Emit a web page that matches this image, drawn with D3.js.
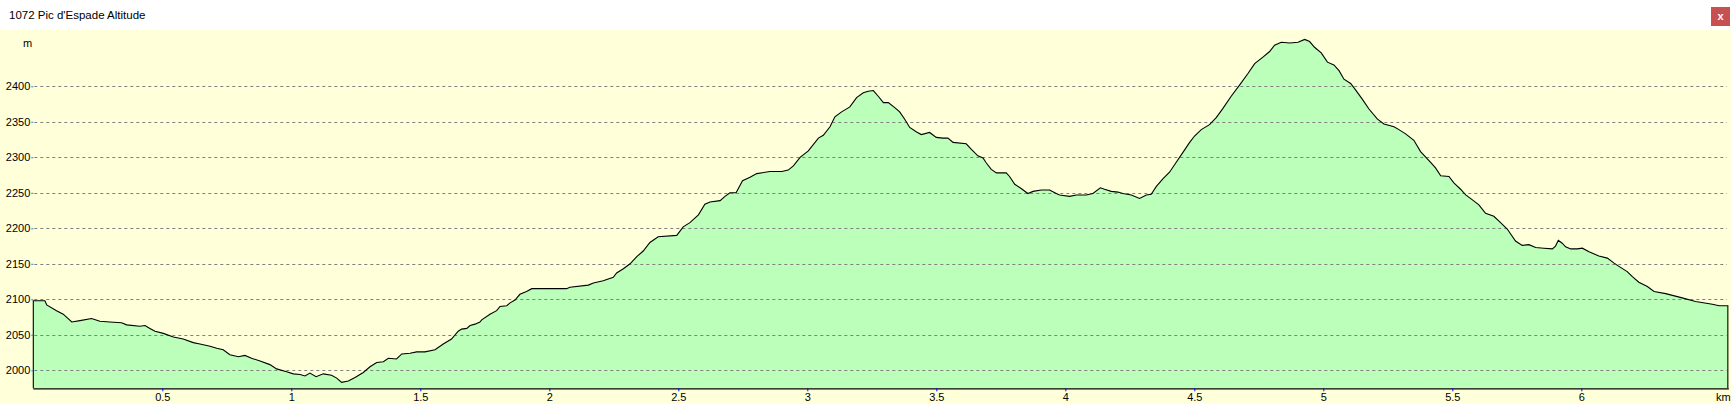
<!DOCTYPE html>
<html>
<head>
<meta charset="utf-8">
<script src="https://cdn.jsdelivr.net/npm/d3@7"></script>
<style>
  html, body { margin: 0; padding: 0; background: #ffffff; }
  svg { display: block; }
  text { font-family: "Liberation Sans", Arial, sans-serif; }
</style>
</head>
<body>
<svg id="chart" width="1731" height="404"></svg>
<script>
// ---- data ----
const title = "1072 Pic d'Espade Altitude";
const yUnit = "m";
const xUnit = "km";

const distanceKm = [
  0.000, 0.045, 0.052, 0.090, 0.116, 0.149, 0.181, 0.226, 0.258, 0.297,
  0.342, 0.362, 0.413, 0.433, 0.452, 0.472, 0.504, 0.543, 0.581, 0.620,
  0.646, 0.685, 0.711, 0.736, 0.762, 0.795, 0.820, 0.846, 0.879, 0.917,
  0.943, 0.982, 1.008, 1.034, 1.053, 1.072, 1.096, 1.124, 1.156, 1.176,
  1.195, 1.221, 1.247, 1.279, 1.305, 1.331, 1.357, 1.376, 1.408, 1.428,
  1.460, 1.486, 1.518, 1.557, 1.589, 1.621, 1.647, 1.660, 1.680, 1.693,
  1.712, 1.731, 1.738, 1.770, 1.796, 1.809, 1.835, 1.848, 1.867, 1.886,
  1.912, 1.932, 2.067, 2.080, 2.151, 2.171, 2.209, 2.248, 2.261, 2.287,
  2.313, 2.339, 2.364, 2.390, 2.422, 2.494, 2.519, 2.545, 2.578, 2.603,
  2.623, 2.662, 2.681, 2.700, 2.724, 2.749, 2.778, 2.804, 2.855, 2.901,
  2.926, 2.946, 2.972, 3.004, 3.043, 3.062, 3.088, 3.107, 3.133, 3.165,
  3.191, 3.217, 3.236, 3.256, 3.275, 3.295, 3.314, 3.339, 3.358, 3.377,
  3.397, 3.422, 3.442, 3.474, 3.500, 3.526, 3.545, 3.565, 3.616, 3.636,
  3.661, 3.681, 3.694, 3.713, 3.733, 3.771, 3.784, 3.804, 3.829, 3.855,
  3.875, 3.907, 3.939, 3.965, 3.978, 4.017, 4.043, 4.081, 4.107, 4.136,
  4.152, 4.178, 4.204, 4.223, 4.256, 4.288, 4.314, 4.333, 4.353, 4.379,
  4.404, 4.430, 4.456, 4.482, 4.501, 4.527, 4.559, 4.585, 4.611, 4.643,
  4.676, 4.708, 4.734, 4.766, 4.792, 4.811, 4.837, 4.870, 4.902, 4.928,
  4.947, 4.966, 4.992, 5.016, 5.041, 5.061, 5.080, 5.106, 5.125, 5.151,
  5.177, 5.209, 5.235, 5.274, 5.293, 5.319, 5.351, 5.377, 5.416, 5.435,
  5.455, 5.487, 5.506, 5.532, 5.552, 5.578, 5.603, 5.629, 5.661, 5.681,
  5.713, 5.745, 5.771, 5.797, 5.823, 5.855, 5.888, 5.900, 5.911, 5.926,
  5.939, 5.959, 5.984, 6.004, 6.030, 6.068, 6.101, 6.127, 6.152, 6.178,
  6.198, 6.223, 6.256, 6.282, 6.327, 6.391, 6.443, 6.508, 6.534, 6.568
];

const altitudeM = [
  2098, 2098, 2092, 2084, 2079, 2068, 2070, 2073, 2069, 2068,
  2067, 2064, 2062, 2063, 2059, 2055, 2052, 2047, 2044, 2039,
  2037, 2034, 2031, 2029, 2022, 2019, 2021, 2017, 2013, 2008,
  2002, 1998, 1995, 1994, 1992, 1996, 1991, 1995, 1993, 1989,
  1983, 1985, 1990, 1997, 2005, 2011, 2012, 2017, 2016, 2023,
  2024, 2026, 2026, 2029, 2037, 2044, 2055, 2058, 2059, 2063,
  2065, 2068, 2071, 2079, 2084, 2090, 2091, 2095, 2099, 2107,
  2111, 2115, 2115, 2117, 2120, 2123, 2126, 2131, 2137, 2143,
  2150, 2160, 2168, 2180, 2188, 2190, 2202, 2208, 2219, 2234,
  2237, 2239, 2245, 2250, 2250, 2267, 2272, 2277, 2280, 2280,
  2282, 2288, 2300, 2309, 2327, 2331, 2343, 2357, 2364, 2371,
  2384, 2391, 2393, 2394, 2386, 2377, 2377, 2370, 2364, 2354,
  2342, 2336, 2332, 2335, 2328, 2327, 2327, 2321, 2319, 2311,
  2302, 2299, 2292, 2283, 2278, 2278, 2273, 2262, 2256, 2249,
  2252, 2254, 2254, 2249, 2247, 2245, 2247, 2247, 2249, 2257,
  2255, 2252, 2251, 2249, 2247, 2242, 2247, 2248, 2259, 2270,
  2279, 2293, 2307, 2321, 2330, 2339, 2346, 2356, 2369, 2386,
  2402, 2418, 2432, 2441, 2449, 2458, 2462, 2461, 2462, 2466,
  2463, 2455, 2447, 2434, 2430, 2422, 2410, 2404, 2395, 2382,
  2368, 2354, 2347, 2343, 2339, 2333, 2324, 2308, 2293, 2285,
  2274, 2273, 2264, 2255, 2247, 2240, 2233, 2221, 2217, 2210,
  2199, 2182, 2176, 2177, 2173, 2172, 2171, 2175, 2183, 2179,
  2174, 2171, 2171, 2172, 2167, 2161, 2158, 2151, 2145, 2139,
  2132, 2124, 2118, 2111, 2108, 2102, 2097, 2093, 2091, 2091
];

const yTickValues = [2000, 2050, 2100, 2150, 2200, 2250, 2300, 2350, 2400];
const xTickValues = [0.5, 1, 1.5, 2, 2.5, 3, 3.5, 4, 4.5, 5, 5.5, 6];
const xTickLabels = ["0.5", "1", "1.5", "2", "2.5", "3", "3.5", "4", "4.5", "5", "5.5", "6"];

// ---- layout ----
const W = 1731, H = 404;
const headerH = 30;
const plotLeft = 33.3, pxPerKm = 258;
const axisY = 388.3;

const svg = d3.select("#chart");

// title bar
svg.append("rect").attr("x", 0).attr("y", 0).attr("width", W).attr("height", headerH).attr("fill", "#ffffff");
svg.append("text").attr("x", 9).attr("y", 19).attr("font-size", 11.5).attr("fill", "#000").text(title);
svg.append("rect").attr("x", 1711).attr("y", 7).attr("width", 19).attr("height", 19).attr("fill", "#c75050");
svg.append("text").attr("x", 1720.5).attr("y", 19.5).attr("text-anchor", "middle")
  .attr("font-size", 11).attr("font-weight", "bold").attr("fill", "#ffffff").text("x");

// chart background
svg.append("rect").attr("x", 0).attr("y", headerH).attr("width", W).attr("height", H - headerH).attr("fill", "#ffffda");

const data = distanceKm.map((d, i) => ({ d, v: altitudeM[i] }));
const xMax = distanceKm[distanceKm.length - 1];

const x = d3.scaleLinear().domain([0, xMax]).range([plotLeft, plotLeft + xMax * pxPerKm]);
const y = d3.scaleLinear().domain([2000, 2400]).range([370.3, 86.3]);
const yBase = y.invert(axisY);

// area fill
const area = d3.area().x(p => x(p.d)).y0(y(yBase)).y1(p => y(p.v));
svg.append("path").datum(data).attr("d", area).attr("fill", "#bbffbb");

// gridlines
svg.append("g").selectAll("line").data(yTickValues).join("line")
  .attr("x1", plotLeft + 1).attr("x2", x(xMax) - 1)
  .attr("y1", d => Math.round(y(d)) + 0.5).attr("y2", d => Math.round(y(d)) + 0.5)
  .attr("stroke", "#808080").attr("stroke-width", 1).attr("stroke-dasharray", "3,3");

// profile outline (closed with left/right edges)
const outline = [{ d: 0, v: yBase }, ...data, { d: xMax, v: yBase }];
const line = d3.line().x(p => x(p.d)).y(p => y(p.v));
svg.append("path").datum(outline).attr("d", line)
  .attr("fill", "none").attr("stroke", "#000").attr("stroke-width", 1.1).attr("stroke-linejoin", "miter");

// y axis labels
const yAxis = d3.axisLeft(y).tickValues(yTickValues).tickSize(2).tickPadding(1).tickFormat(d3.format("d"));
const gy = svg.append("g").attr("transform", `translate(${plotLeft},0)`).call(yAxis);
gy.select(".domain").remove();
gy.selectAll(".tick line").attr("stroke", "#2a7fd4");
gy.selectAll(".tick text").attr("font-size", 11).attr("fill", "#000").attr("font-family", "Liberation Sans, Arial, sans-serif");

// x axis
const xAxis = d3.axisBottom(x).tickValues(xTickValues).tickSize(3).tickPadding(2)
  .tickFormat((d, i) => xTickLabels[i]);
const gx = svg.append("g").attr("transform", `translate(0,${axisY})`).call(xAxis);
gx.select(".domain").attr("d", `M${plotLeft},0.5H${x(xMax) + 1}`).attr("stroke", "#000").attr("stroke-width", 1.2);
gx.selectAll(".tick line").attr("stroke", "#0000ff");
gx.selectAll(".tick text").attr("font-size", 11).attr("fill", "#000").attr("font-family", "Liberation Sans, Arial, sans-serif");

// unit labels
svg.append("text").attr("x", 23).attr("y", 47).attr("font-size", 11).attr("fill", "#000").text(yUnit);
svg.append("text").attr("x", 1716).attr("y", 401).attr("font-size", 11).attr("fill", "#000").text(xUnit);
</script>
</body>
</html>
